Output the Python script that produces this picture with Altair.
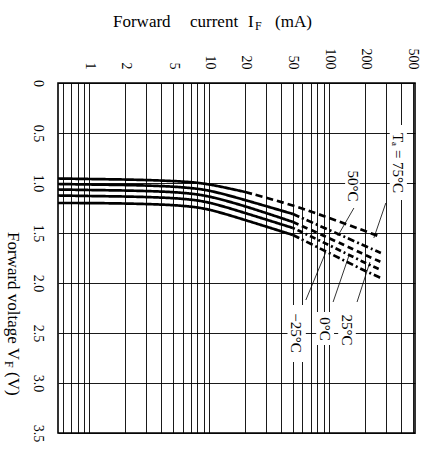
import altair as alt
import pandas as pd

# Forward current (mA) sample points shared by all curves
currents = [0.55, 1, 2, 3, 5, 7, 10, 20, 50, 100, 200, 270]

# Forward voltage (V) for each ambient temperature
vf_75 = [0.955, 0.96, 0.965, 0.97, 0.98, 0.99, 1.01, 1.09, 1.22, 1.35, 1.48, 1.54]
vf_50 = [1.01, 1.015, 1.02, 1.025, 1.035, 1.05, 1.07, 1.17, 1.31, 1.47, 1.63, 1.70]
vf_25 = [1.065, 1.07, 1.075, 1.08, 1.09, 1.105, 1.13, 1.23, 1.39, 1.55, 1.72, 1.79]
vf_0 = [1.125, 1.13, 1.135, 1.14, 1.15, 1.165, 1.19, 1.30, 1.45, 1.62, 1.80, 1.87]
vf_m25 = [1.20, 1.20, 1.205, 1.21, 1.22, 1.235, 1.26, 1.37, 1.52, 1.70, 1.88, 1.95]

temps = ["75", "50", "25", "0", "-25"]
curves = [vf_75, vf_50, vf_25, vf_0, vf_m25]
# current above which each curve is drawn broken
solid_limit = [20, 50, 50, 50, 50]

# Axis ticks / grid
grid_currents = [0.6, 0.7, 0.8, 0.9, 1, 2, 3, 4, 5, 6, 7, 8, 9,
                 10, 20, 30, 40, 50, 60, 70, 80, 90, 100, 200, 300, 400, 500]
label_currents = [1, 2, 5, 10, 20, 50, 100, 200, 500]
voltage_ticks = [0, 0.5, 1.0, 1.5, 2.0, 2.5, 3.0, 3.5]

# Temperature labels (centre position in data units)
label_text = ["Tₐ = 75°C", "50°C", "25°C", "0°C", "−25°C"]
label_i = [375, 157, 140, 92, 53]
label_v = [0.80, 1.03, 2.47, 2.46, 2.50]

# White boxes behind the temperature labels
box_i1 = [320, 136, 119, 78, 45]
box_i2 = [445, 180, 167, 110, 64]
box_v1 = [0.42, 0.82, 2.25, 2.29, 2.22]
box_v2 = [1.17, 1.22, 2.68, 2.62, 2.79]

# Leader lines from labels to curves
lead_i1 = [297, 161, 171, 108, 64]
lead_v1 = [1.20, 1.25, 2.19, 2.19, 2.17]
lead_i2 = [236, 118, 219, 146, 94]
lead_v2 = [1.55, 1.53, 1.79, 1.73, 1.69]

rows = []
for t, vs, lim in zip(temps, curves, solid_limit):
    for i, v in zip(currents, vs):
        if i <= lim:
            rows.append({"current": i, "voltage": v, "part": t + "s", "style": "solid"})
        if i >= lim:
            rows.append({"current": i, "voltage": v, "part": t + "d", "style": "d" + t})
curve_df = pd.DataFrame(rows)

labels_df = pd.DataFrame({"i": label_i, "v": label_v, "text": label_text})
boxes_df = pd.DataFrame({"i1": box_i1, "i2": box_i2, "v1": box_v1, "v2": box_v2})
leads_df = pd.DataFrame({"i1": lead_i1, "i2": lead_i2, "v1": lead_v1, "v2": lead_v2})

FONT = "Liberation Serif"

x_scale = alt.Scale(type="log", domain=[0.55, 520], nice=False)
y_scale = alt.Scale(domain=[0, 3.5], reverse=True, nice=False)

x_axis = alt.Axis(
    orient="top", values=grid_currents, title=None,
    labelExpr="indexof(%s, datum.value) >= 0 ? datum.label : ''" % str(label_currents),
    format="~g", labelAngle=90, labelAlign="right", labelBaseline="middle",
    labelPadding=14, ticks=False, tickSize=0, domain=False,
    grid=True, gridColor="black", gridOpacity=1, gridWidth=0.9,
    labelFont=FONT, labelFontSize=14, labelColor="black",
    labelOverlap=False, labelBound=False, labelFlush=False,
)
y_axis = alt.Axis(
    orient="left", values=voltage_ticks, title=None,
    labelExpr="datum.value == 0 ? '0' : format(datum.value, '.1f')",
    labelAngle=90, labelAlign="center", labelBaseline="top",
    labelPadding=14, ticks=False, tickSize=0, domain=False,
    grid=True, gridColor="black", gridOpacity=1, gridWidth=0.9,
    labelFont=FONT, labelFontSize=14, labelColor="black",
    labelOverlap=False, labelBound=False, labelFlush=False,
)


def X(field):
    return alt.X(field, type="quantitative", scale=x_scale, axis=x_axis)


def Y(field):
    return alt.Y(field, type="quantitative", scale=y_scale, axis=y_axis)


boxes = alt.Chart(boxes_df).mark_rect(color="white").encode(
    x=X("i1"), x2="i2", y=Y("v1"), y2="v2"
)

lines = alt.Chart(curve_df).mark_line(
    color="black", strokeWidth=2.7, interpolate="basis"
).encode(
    x=X("current"), y=Y("voltage"), detail="part:N",
    strokeDash=alt.StrokeDash(
        "style:N",
        scale=alt.Scale(
            domain=["solid", "d75", "d50", "d25", "d0", "d-25"],
            range=[[1, 0], [7, 4], [7, 3, 2, 3], [6, 4], [2, 3, 6, 3], [7, 3, 2, 3]],
        ),
        legend=None,
    ),
)

leads = alt.Chart(leads_df).mark_rule(color="black", strokeWidth=0.8).encode(
    x=X("i1"), x2="i2", y=Y("v1"), y2="v2"
)

texts = alt.Chart(labels_df).mark_text(
    angle=90, align="center", baseline="middle", font=FONT, fontSize=15, color="black"
).encode(x=X("i"), y=Y("v"), text="text:N")


def title_piece(text, x, y, size=17, angle=0):
    return alt.Chart(pd.DataFrame({"t": [text]})).mark_text(
        align="left", baseline="alphabetic", font=FONT, fontSize=size,
        color="black", angle=angle,
    ).encode(text="t:N", x=alt.value(x), y=alt.value(y))


titles = [
    title_piece("Forward", 55, -56),
    title_piece("current", 132, -56),
    title_piece("I", 190, -56),
    title_piece("F", 197, -53, size=12),
    title_piece("(mA)", 217, -56),
    title_piece("Forward voltage V", -50, 149, angle=90),
    title_piece("F", -53, 278, size=12, angle=90),
    title_piece("(V)", -50, 289, angle=90),
]

chart = alt.layer(boxes, lines, leads, texts, *titles).properties(
    width=357, height=350,
    autosize=alt.AutoSizeParams(type="none"),
    padding={"left": 58, "top": 83, "right": 12, "bottom": 24},
    background="white",
).configure_view(stroke="black", strokeWidth=1.6)

chart.save("out.html", embed_options={"renderer": "svg", "actions": False})
